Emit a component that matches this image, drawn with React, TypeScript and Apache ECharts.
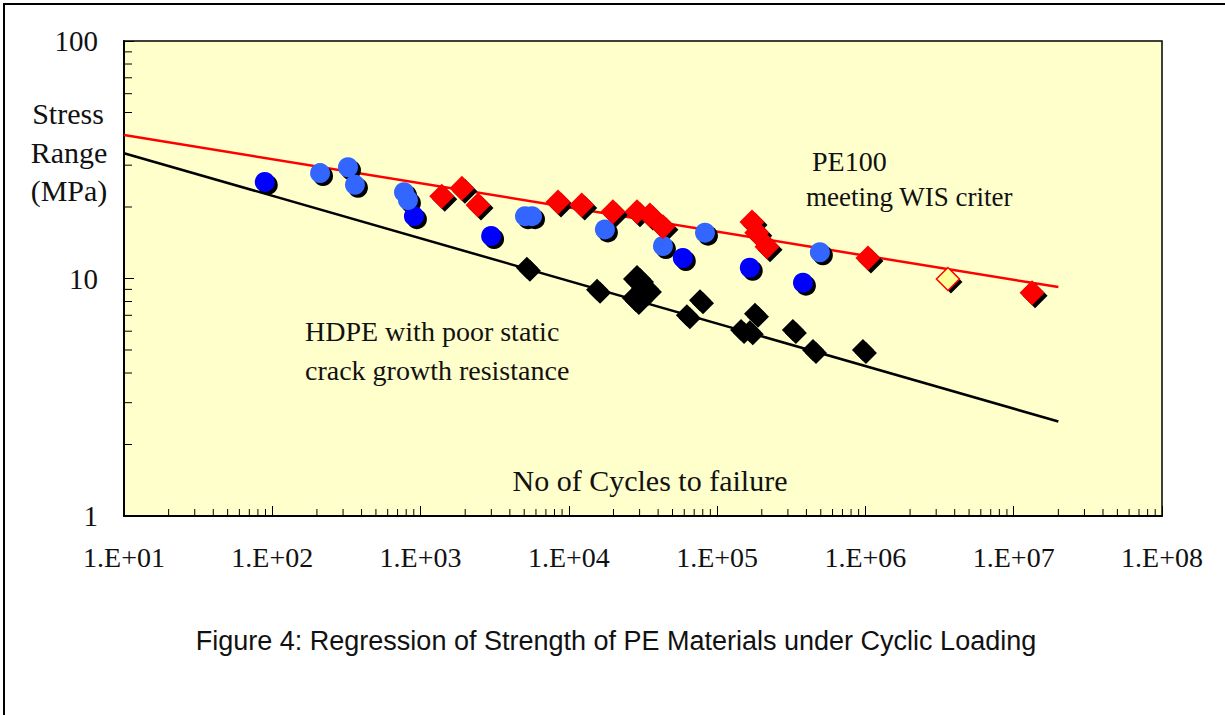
import React, { useEffect, useRef } from "react";
import * as echarts from "echarts";

// ---- Data ----
// Dark blue circles
const darkBlueN = [89, 902, 2990, 58700, 166000, 379000];
const darkBlueS = [25.5, 18.3, 15.1, 12.2, 11.1, 9.6];
// Light blue circles
const lightBlueN = [210, 324, 361, 773, 822, 5060, 5640, 17500, 43100, 82800, 493000];
const lightBlueS = [27.8, 29.4, 24.8, 23.1, 21.4, 18.3, 18.3, 16.1, 13.7, 15.6, 12.9];
// PE100 red diamonds
const redN = [1390, 1900, 2440, 8450, 12200, 19800, 28800, 35200, 43100, 171800, 185000, 217000, 1040000, 13300000];
const redS = [22.2, 24.0, 20.4, 21.0, 20.4, 19.1, 19.1, 18.5, 16.5, 17.3, 15.6, 13.6, 12.2, 8.7];
// Open (yellow) diamond
const yellowN = [3600000];
const yellowS = [9.95];
// HDPE black diamonds
const blackN = [5210, 15500, 62500, 76600, 145000, 166000, 180000, 324000, 443000, 962000];
const blackS = [11.1, 8.96, 7.0, 8.1, 6.07, 6.0, 7.1, 6.07, 5.0, 5.0];
const blackClusterN = [28800, 32600, 28300];
const blackClusterS = [9.95, 9.04, 8.28];
// Regression lines
const redFitN = [10, 20000000];
const redFitS = [40.2, 9.2];
const blackFitN = [10, 20000000];
const blackFitS = [33.7, 2.5];
// Axis decades
const xDecadeExps = [1, 2, 3, 4, 5, 6, 7];
const yDecadeExps = [0, 1];
const minorMultipliers = [2, 3, 4, 5, 6, 7, 8, 9];

const zip = (a: number[], b: number[]) => a.map((v, i) => [v, b[i]]);

const SERIF = "'Liberation Serif', 'Times New Roman', serif";

export default function App() {
  const ref = useRef<HTMLDivElement>(null);

  useEffect(() => {
    if (!ref.current) return;
    const chart = echarts.init(ref.current, null, { renderer: "svg" });

    const xMinor: number[][] = [];
    xDecadeExps.forEach((e) =>
      minorMultipliers.forEach((m) => xMinor.push([m * Math.pow(10, e), 1]))
    );
    const yMinor: number[][] = [];
    yDecadeExps.forEach((e) =>
      minorMultipliers.forEach((m) => yMinor.push([10, m * Math.pow(10, e)]))
    );

    const shadow = (name: string, n: number[], s: number[], symbol: string, size: number) => ({
      name: name + " shadow",
      type: "scatter",
      data: zip(n, s),
      symbol,
      symbolSize: size,
      symbolOffset: [3, 3],
      itemStyle: { color: "#000", opacity: 1 },
      silent: true,
      z: 3,
    });
    const marks = (name: string, n: number[], s: number[], symbol: string, size: number, style: any) => ({
      name,
      type: "scatter",
      data: zip(n, s),
      symbol,
      symbolSize: size,
      itemStyle: { opacity: 1, ...style },
      silent: true,
      z: 4,
    });

    const textStyle = (text: string, x: number, y: number, size: number, align = "left", extra: any = {}) => ({
      type: "text",
      x,
      y,
      z: 100,
      style: {
        text,
        fill: "#111",
        fontFamily: SERIF,
        fontSize: size,
        textAlign: align,
        textVerticalAlign: "middle",
        ...extra,
      },
    });

    chart.setOption({
      animation: false,
      backgroundColor: "#ffffff",
      grid: {
        left: 124,
        right: 63,
        top: 41,
        bottom: 199,
        show: true,
        backgroundColor: "#FFFFCC",
        borderColor: "#000",
        borderWidth: 1.5,
      },
      xAxis: {
        type: "log",
        logBase: 10,
        min: 10,
        max: 100000000,
        splitNumber: 7,
        axisLine: { show: true, lineStyle: { color: "#000", width: 2 } },
        axisTick: { show: true, inside: true, length: 10, lineStyle: { color: "#000", width: 1 } },
        splitLine: { show: false },
        minorTick: { show: false },
        axisLabel: {
          show: true,
          interval: 0,
          showMinLabel: true,
          showMaxLabel: true,
          margin: 27,
          color: "#111",
          fontFamily: SERIF,
          fontSize: 28,
          formatter: (v: number) => {
            const e = Math.round(Math.log10(v));
            return "1.E+" + (e < 10 ? "0" + e : String(e));
          },
        },
      },
      yAxis: {
        type: "log",
        logBase: 10,
        min: 1,
        max: 100,
        splitNumber: 2,
        axisLine: { show: true, lineStyle: { color: "#000", width: 2 } },
        axisTick: { show: true, inside: true, length: 10, lineStyle: { color: "#000", width: 1 } },
        splitLine: { show: false },
        axisLabel: {
          show: true,
          margin: 26,
          color: "#111",
          fontFamily: SERIF,
          fontSize: 29,
          showMinLabel: true,
          showMaxLabel: true,
        },
      },
      series: [
        {
          name: "x minor ticks",
          type: "custom",
          silent: true,
          data: xMinor,
          z: 1,
          renderItem: (_p: any, api: any) => {
            const pt = api.coord([api.value(0), api.value(1)]);
            return {
              type: "line",
              shape: { x1: pt[0], y1: pt[1], x2: pt[0], y2: pt[1] - 7 },
              style: { stroke: "#000", lineWidth: 1 },
            };
          },
        },
        {
          name: "y minor ticks",
          type: "custom",
          silent: true,
          data: yMinor,
          z: 1,
          renderItem: (_p: any, api: any) => {
            const pt = api.coord([api.value(0), api.value(1)]);
            return {
              type: "line",
              shape: { x1: pt[0], y1: pt[1], x2: pt[0] + 8, y2: pt[1] },
              style: { stroke: "#000", lineWidth: 1 },
            };
          },
        },
        {
          name: "PE100 regression",
          type: "line",
          data: zip(redFitN, redFitS),
          symbol: "none",
          silent: true,
          lineStyle: { color: "#FF0000", width: 2.5 },
          z: 2,
        },
        {
          name: "HDPE regression",
          type: "line",
          data: zip(blackFitN, blackFitS),
          symbol: "none",
          silent: true,
          lineStyle: { color: "#000", width: 2.5 },
          z: 2,
        },
        shadow("dark blue", darkBlueN, darkBlueS, "circle", 20),
        marks("dark blue", darkBlueN, darkBlueS, "circle", 20, { color: "#0000FF" }),
        shadow("light blue", lightBlueN, lightBlueS, "circle", 20),
        marks("light blue", lightBlueN, lightBlueS, "circle", 20, { color: "#3366FF" }),
        shadow("HDPE", blackN, blackS, "diamond", 22),
        marks("HDPE", blackN, blackS, "diamond", 22, { color: "#000" }),
        shadow("HDPE cluster", blackClusterN, blackClusterS, "diamond", 28),
        marks("HDPE cluster", blackClusterN, blackClusterS, "diamond", 28, { color: "#000" }),
        shadow("PE100", redN, redS, "diamond", 25),
        marks("PE100", redN, redS, "diamond", 25, { color: "#FF0000" }),
        shadow("PE100 open", yellowN, yellowS, "diamond", 23),
        marks("PE100 open", yellowN, yellowS, "diamond", 23, {
          color: "#FFFF99",
          borderColor: "#FF0000",
          borderWidth: 1.5,
        }),
      ],
      graphic: [
        {
          type: "rect",
          z: 200,
          silent: true,
          shape: { x: 4, y: 4, width: 1400, height: 900 },
          style: { fill: "none", stroke: "#000", lineWidth: 2 },
        },
        textStyle("Stress", 68, 113, 30, "center"),
        textStyle("Range", 69, 152, 30, "center"),
        textStyle("(MPa)", 69, 190, 30, "center"),
        textStyle("PE100", 812, 161, 28),
        textStyle("meeting WIS criteria", 806, 197, 27, "left", {
          width: 208,
          overflow: "truncate",
          ellipsis: "",
        }),
        textStyle("HDPE with poor static", 305, 331, 28),
        textStyle("crack growth resistance", 305, 370, 28),
        textStyle("No of Cycles to failure", 650, 480, 30, "center"),
        {
          type: "text",
          x: 616,
          y: 641,
          z: 100,
          style: {
            text: "Figure 4: Regression of Strength of PE Materials under Cyclic Loading",
            fill: "#111",
            fontFamily: "'Liberation Sans', Arial, sans-serif",
            fontSize: 27,
            textAlign: "center",
            textVerticalAlign: "middle",
          },
        },
      ],
    });

    return () => chart.dispose();
  }, []);

  return (
    <div
      ref={ref}
      style={{ position: "fixed", left: 0, top: 0, width: 1225, height: 715, background: "#fff" }}
    />
  );
}
